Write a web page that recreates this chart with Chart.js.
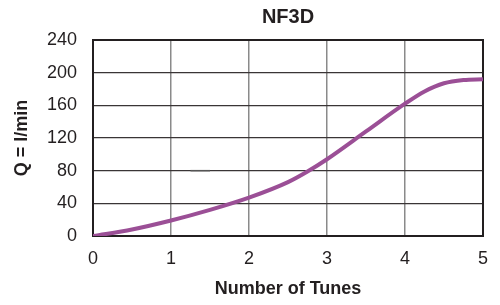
<!DOCTYPE html>
<html>
<head>
<meta charset="utf-8">
<script src="https://cdn.jsdelivr.net/npm/chart.js@4/dist/chart.umd.min.js"></script>
<style>
  html, body { margin: 0; padding: 0; background: #ffffff; }
  #wrap { width: 500px; height: 305px; position: relative; }
</style>
</head>
<body>
<div id="wrap"><canvas id="c" width="500" height="305"></canvas></div>
<script>
// Data
const turns = [0, 0.5, 1, 1.5, 2, 2.5, 2.75, 3, 3.5, 4, 4.25, 4.5, 4.75, 5];
const flow  = [0, 8, 19, 32, 47, 66, 79, 94, 128, 162, 177, 187, 191, 192];
const dashX = [1.25, 1.5];
const dashY = [80, 80];
const xTicks = [0, 1, 2, 3, 4, 5];
const yTicks = [0, 40, 80, 120, 160, 200, 240];

const titleText = 'NF3D';
const xTitle = 'Number of Tunes';
const yTitle = 'Q = l/min';

const ink = '#231f20';
const fontFamily = '"Liberation Sans", Arial, Helvetica, sans-serif';

const curve = turns.map((t, i) => ({ x: t, y: flow[i] }));
const dash = dashX.map((t, i) => ({ x: t, y: dashY[i] }));

const framePlugin = {
  id: 'frame',
  beforeDatasetsDraw(chart) {
    const { ctx, chartArea: a } = chart;
    ctx.save();
    ctx.strokeStyle = ink;
    ctx.lineWidth = 2;
    ctx.strokeRect(a.left, a.top, a.right - a.left, a.bottom - a.top);
    ctx.restore();
  }
};

new Chart(document.getElementById('c'), {
  type: 'line',
  data: {
    datasets: [
      {
        data: curve,
        borderColor: '#9b4f96',
        borderWidth: 4,
        pointRadius: 0,
        cubicInterpolationMode: 'monotone',
        fill: false
      },
      {
        data: dash,
        borderColor: '#555555',
        borderWidth: 1.5,
        pointRadius: 0,
        fill: false
      }
    ]
  },
  options: {
    responsive: false,
    animation: false,
    devicePixelRatio: 1,
    layout: { padding: { left: 0, right: 13, top: 0, bottom: 0 } },
    plugins: {
      legend: { display: false },
      tooltip: { enabled: false },
      title: { display: false }
    },
    scales: {
      x: {
        type: 'linear',
        position: 'bottom',
        min: 0, max: 5,
        afterBuildTicks(s) { s.ticks = xTicks.map(v => ({ value: v })); },
        afterFit(s) { s.height = 69; },
        grid: { color: '#8a8a8a', lineWidth: 1.5, drawTicks: false },
        border: { display: false },
        ticks: {
          color: ink, padding: 12,
          font: { family: fontFamily, size: 18 }
        },
        title: {
          display: true, text: xTitle, color: ink,
          font: { family: fontFamily, size: 18, weight: 'bold' },
          padding: { top: 0, bottom: 5 }
        }
      },
      top: {
        type: 'linear',
        position: 'top',
        min: 0, max: 5,
        afterFit(s) { s.height = 40; },
        grid: { display: false, drawTicks: false },
        border: { display: false },
        ticks: { display: false },
        title: {
          display: true, text: titleText, color: ink,
          font: { family: fontFamily, size: 20, weight: 'bold' },
          padding: { top: 5, bottom: 0 }
        }
      },
      y: {
        type: 'linear',
        position: 'left',
        min: 0, max: 240,
        afterBuildTicks(s) { s.ticks = yTicks.map(v => ({ value: v })); },
        afterFit(s) { s.width = 93; },
        grid: { color: '#3a3536', lineWidth: 1.2, drawTicks: false },
        border: { display: false },
        ticks: {
          color: ink, padding: 16,
          font: { family: fontFamily, size: 18 }
        },
        title: {
          display: true, text: yTitle, color: ink,
          font: { family: fontFamily, size: 18, weight: 'bold' },
          padding: { top: 11, bottom: 0 }
        }
      }
    }
  },
  plugins: [framePlugin]
});
</script>
</body>
</html>
